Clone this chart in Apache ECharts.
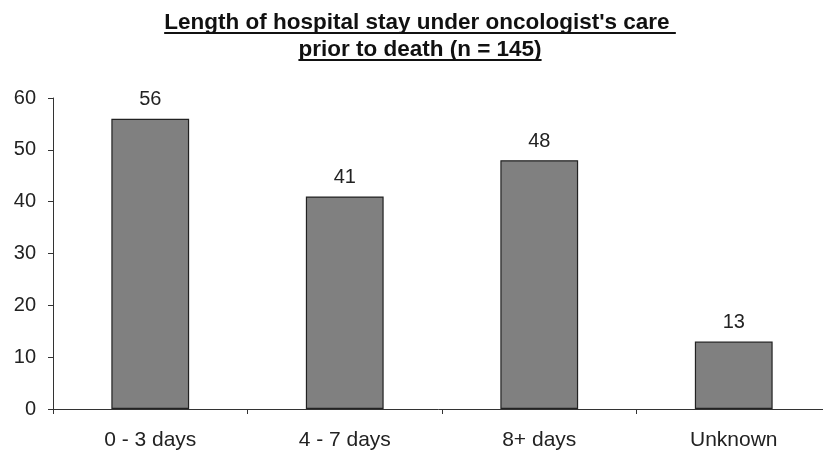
<!DOCTYPE html>
<html>
<head>
<meta charset="utf-8">
<script src="https://cdn.jsdelivr.net/npm/echarts@6/dist/echarts.min.js"></script>
<style>
  html, body { margin: 0; padding: 0; background: #fff; }
  #chart { width: 823px; height: 450px; }
</style>
</head>
<body>
<div id="chart"></div>
<script>
// Length of stay categories and patient counts
const categories = ['0 - 3 days', '4 - 7 days', '8+ days', 'Unknown'];
const patients = [56, 41, 48, 13];
const yTicks = { min: 0, max: 60, interval: 10 };
const titleLines = ["Length of hospital stay under oncologist's care ", 'prior to death (n = 145)'];

const FONT = '"Liberation Sans", Arial, sans-serif';
const TITLE_SIZE = 22.5;
const chart = echarts.init(document.getElementById('chart'), null, { renderer: 'canvas' });

// Underlined two-line heading, centred a little right of the canvas middle
function titleGraphics() {
  const ctx = document.createElement('canvas').getContext('2d');
  ctx.font = 'bold ' + TITLE_SIZE + 'px ' + FONT;
  const cx = 420;
  const textBottoms = [34, 61];
  const rules = [33, 60];
  const out = [];
  titleLines.forEach((t, i) => {
    const w = ctx.measureText(t).width;
    out.push({
      type: 'text',
      x: cx, y: textBottoms[i],
      style: {
        text: t, fill: '#111',
        font: 'bold ' + TITLE_SIZE + 'px ' + FONT,
        textAlign: 'center', textVerticalAlign: 'bottom'
      }
    });
    out.push({
      type: 'line',
      z: 10,
      shape: { x1: cx - w / 2, y1: rules[i], x2: cx + w / 2, y2: rules[i] },
      style: { stroke: '#111', lineWidth: 2 }
    });
  });
  return out;
}

chart.setOption({
  backgroundColor: '#ffffff',
  animation: false,
  grid: {
    left: 53, width: 778, top: 98, bottom: 41,
    containLabel: false, outerBoundsMode: 'none'
  },
  xAxis: {
    type: 'category',
    data: categories,
    axisLine: { lineStyle: { color: '#333', width: 1 } },
    axisTick: { show: true, length: 5, lineStyle: { color: '#333' } },
    axisLabel: { fontFamily: FONT, fontSize: 21, color: '#222', margin: 21 }
  },
  yAxis: {
    type: 'value',
    min: yTicks.min,
    max: yTicks.max,
    interval: yTicks.interval,
    splitLine: { show: false },
    axisLine: { show: true, lineStyle: { color: '#333', width: 1 } },
    axisTick: { show: true, length: 5, lineStyle: { color: '#333' } },
    axisLabel: { fontFamily: FONT, fontSize: 20, color: '#222', margin: 17 }
  },
  series: [{
    type: 'bar',
    data: patients,
    barWidth: '40%',
    itemStyle: { color: '#808080', borderColor: '#222', borderWidth: 1.2 },
    label: {
      show: true,
      position: 'top',
      distance: 9,
      fontFamily: FONT,
      fontSize: 20,
      color: '#222'
    }
  }],
  graphic: titleGraphics()
});
</script>
</body>
</html>
